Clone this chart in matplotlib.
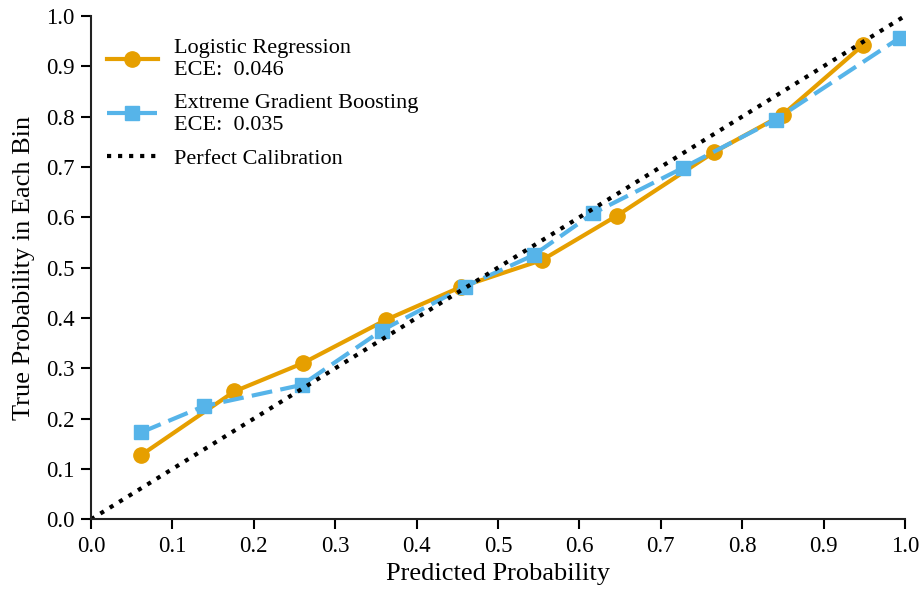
import matplotlib
matplotlib.use('Agg')
import matplotlib.pyplot as plt

lr_pred = [0.062, 0.176, 0.260, 0.362, 0.455, 0.554, 0.646, 0.765, 0.850, 0.949]
lr_true = [0.128, 0.254, 0.310, 0.396, 0.462, 0.515, 0.603, 0.729, 0.804, 0.943]
xgb_pred = [0.062, 0.139, 0.259, 0.357, 0.459, 0.544, 0.617, 0.727, 0.841, 0.994]
xgb_true = [0.173, 0.225, 0.267, 0.375, 0.462, 0.525, 0.608, 0.698, 0.794, 0.957]
perfect = [0.0, 1.0]

plt.rcParams['font.family'] = ['Liberation Serif', 'DejaVu Serif']

fig = plt.figure(figsize=(9.21, 5.9), dpi=100)
ax = fig.add_axes([0.0988, 0.1198, 0.8838, 0.8532])

ax.plot(lr_pred, lr_true, '-o', color='#E69F00', linewidth=3, markersize=11,
        label='Logistic Regression\nECE:  0.046')
ax.plot(xgb_pred, xgb_true, '--s', color='#56B4E9', linewidth=3, markersize=10,
        dashes=(5, 2), label='Extreme Gradient Boosting\nECE:  0.035')
ax.plot(perfect, perfect, ':', color='black', linewidth=3, label='Perfect Calibration')

ax.set_xlim(0, 1)
ax.set_ylim(0, 1)
ax.set_xticks([i / 10 for i in range(11)])
ax.set_yticks([i / 10 for i in range(11)])
ax.spines['top'].set_visible(False)
ax.spines['right'].set_visible(False)
for s in ['left', 'bottom']:
    ax.spines[s].set_linewidth(1.5)
    ax.spines[s].set_color('#222222')
ax.tick_params(labelsize=16.5, width=1.5, length=7, direction='out', pad=5)

ax.set_xlabel('Predicted Probability', fontsize=19, labelpad=4)
ax.set_ylabel('True Probability in Each Bin', fontsize=19, labelpad=8)

ax.legend(loc='upper left', frameon=False, fontsize=16, handlelength=2.3,
          bbox_to_anchor=(-0.005, 0.994), labelspacing=0.63, handletextpad=0.7)

fig.savefig('out.png', dpi=100)
